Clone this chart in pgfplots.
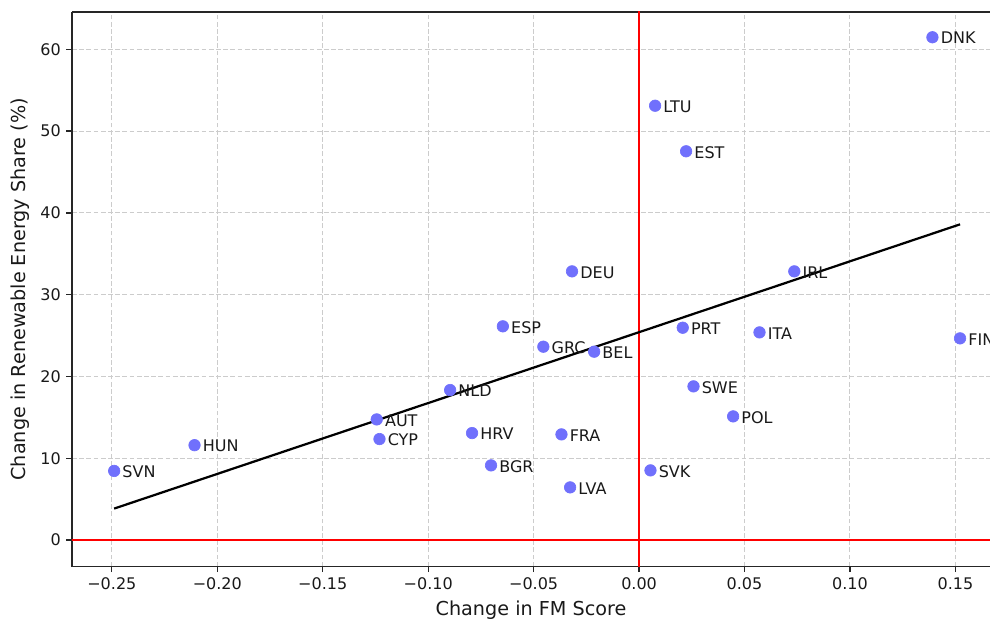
\documentclass[border=0pt]{standalone}
\usepackage{pgfplots}
\pgfplotsset{compat=1.18}
\usepackage{fontspec}
\setmainfont{DejaVu Sans}
\definecolor{ptblue}{RGB}{112,112,252}
\begin{document}
\begin{tikzpicture}
\begin{axis}[
  scale only axis, width=573.75pt, height=346.6pt,
  xmin=-0.2689, xmax=0.1664, ymin=-3.24, ymax=64.56,
  axis y line*=left, y axis line style={-},
  axis line style={black!85, line width=0.8pt},
  tick pos=left, tick align=outside, major tick length=3.5pt,
  every tick/.style={black!85, line width=0.8pt},
  xtick={-0.25,-0.2,-0.15,-0.1,-0.05,0,0.05,0.1,0.15},
  xticklabels={−0.25,−0.20,−0.15,−0.10,−0.05,0.00,0.05,0.10,0.15},
  ytick={0,10,20,30,40,50,60},
  yticklabels={0,10,20,30,40,50,60},
  tick label style={font=\fontsize{10}{12}\selectfont, text=black!90},
  grid=major,
  major grid style={dash pattern=on 3pt off 1.5pt, line width=0.6pt, color=gray!40},
  xlabel={Change in FM Score},
  ylabel={Change in Renewable Energy Share (\%)},
  label style={font=\fontsize{12}{14}\selectfont, text=black!90},
]
\addplot[red, line width=1.2pt, forget plot] coordinates {(-0.3,0) (0.2,0)};
\addplot[red, line width=1.2pt, forget plot] coordinates {(0,-5) (0,70)};
\addplot[black, line width=1.4pt] coordinates {(-0.2489,3.85) (0.1522,38.6)};
\addplot[only marks, mark=*, mark size=3.6pt, color=ptblue,
  mark options={draw=ptblue, fill=ptblue},
  nodes near coords, point meta=explicit symbolic,
  every node near coord/.append style={anchor=base west, xshift=5pt, yshift=-4.2pt, inner sep=0pt,
    font=\fontsize{10}{12}\selectfont, text=black!90, text opacity=1}]
  table[x=x, y=y, meta=lab] {
x y lab
-0.2489 8.45 SVN
-0.2108 11.6 HUN
-0.1244 14.75 AUT
-0.1231 12.35 CYP
-0.0896 18.34 NLD
-0.0792 13.08 HRV
-0.0702 9.13 BGR
-0.0646 26.13 ESP
-0.0454 23.64 GRC
-0.0213 23.03 BEL
-0.0368 12.92 FRA
-0.0327 6.44 LVA
-0.0318 32.85 DEU
0.0076 53.1 LTU
0.0223 47.53 EST
0.0207 25.96 PRT
0.0571 25.39 ITA
0.1522 24.66 FIN
0.0258 18.79 SWE
0.0446 15.12 POL
0.0054 8.52 SVK
0.1391 61.47 DNK
0.0736 32.85 IRL
};
\end{axis}
\pgfresetboundingbox
\path ([shift={(-45pt,-34.7pt)}]current axis.south west) rectangle ([shift={(0pt,7.5pt)}]current axis.north east);
\end{tikzpicture}
\end{document}
